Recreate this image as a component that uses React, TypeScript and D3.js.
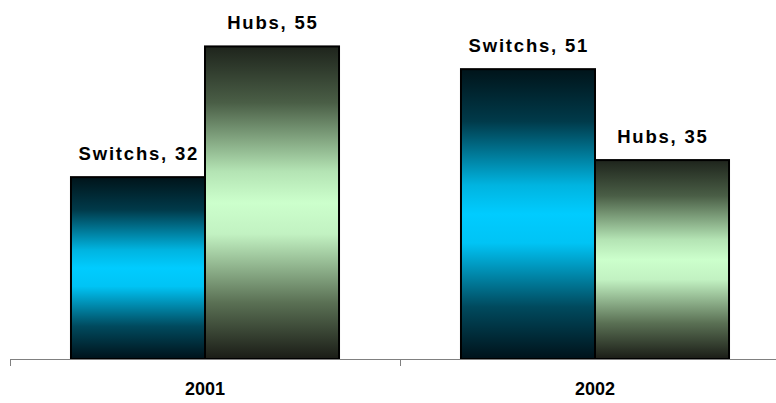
import React from "react";
import * as d3 from "d3";

const categories = ["2001", "2002"];
const seriesNames = ["Switchs", "Hubs"];
const switchValues = [32, 51];
const hubValues = [55, 35];
const yMax = 60;

const W = 776;
const H = 403;

export default function App() {
  const values: Record<string, number[]> = { Switchs: switchValues, Hubs: hubValues };
  const x = d3.scaleBand<string>().domain(categories).range([10, 790]);
  const inner = d3
    .scaleBand<string>()
    .domain(seriesNames)
    .range([0, x.bandwidth()])
    .paddingOuter(0.455)
    .paddingInner(0);
  const y = d3.scaleLinear().domain([0, yMax]).range([359, 18]);
  const grad: Record<string, string> = { Switchs: "gSw", Hubs: "gHu" };
  const ls = 1.8;

  return (
    <svg width={W} height={H} style={{ position: "absolute", left: 0, top: 0 }}>
      <defs>
        <linearGradient id="gSw" x1="0" y1="0" x2="0" y2="1">
          <stop offset="0" stopColor="#00141a" />
          <stop offset="0.18" stopColor="#003a4a" />
          <stop offset="0.4" stopColor="#00b4e0" />
          <stop offset="0.5" stopColor="#00ccff" />
          <stop offset="0.6" stopColor="#00c4f5" />
          <stop offset="0.82" stopColor="#004a5e" />
          <stop offset="1" stopColor="#00121a" />
        </linearGradient>
        <linearGradient id="gHu" x1="0" y1="0" x2="0" y2="1">
          <stop offset="0" stopColor="#1e241c" />
          <stop offset="0.18" stopColor="#4a5e46" />
          <stop offset="0.4" stopColor="#b4e4b4" />
          <stop offset="0.5" stopColor="#ccffcc" />
          <stop offset="0.6" stopColor="#c2f2c2" />
          <stop offset="0.82" stopColor="#5a7054" />
          <stop offset="1" stopColor="#1a1c16" />
        </linearGradient>
      </defs>
      {categories.map((c, i) =>
        seriesNames.map((s) => {
          const v = values[s][i];
          const bx = (x(c) ?? 0) + (inner(s) ?? 0);
          const bw = inner.bandwidth();
          return (
            <g key={c + s}>
              <rect
                x={bx}
                y={y(v)}
                width={bw}
                height={y(0) - y(v)}
                fill={`url(#${grad[s]})`}
                stroke="#000"
                strokeWidth={2}
              />
              <text
                x={bx + bw / 2 + ls / 2}
                y={y(v) - 17}
                textAnchor="middle"
                fontFamily="Liberation Sans, Arial, sans-serif"
                fontWeight="bold"
                fontSize={18.5}
                letterSpacing={ls}
                fill="#000"
              >
                {s}, {v}
              </text>
            </g>
          );
        })
      )}
      <line x1={10} x2={W} y1={359.5} y2={359.5} stroke="#808080" strokeWidth={1} />
      {categories.map((c) => (
        <line
          key={"t" + c}
          x1={Math.round(x(c) ?? 0) + 0.5}
          x2={Math.round(x(c) ?? 0) + 0.5}
          y1={359}
          y2={366}
          stroke="#808080"
        />
      ))}
      {categories.map((c) => (
        <text
          key={"l" + c}
          x={(x(c) ?? 0) + x.bandwidth() / 2}
          y={395}
          textAnchor="middle"
          fontFamily="Liberation Sans, Arial, sans-serif"
          fontWeight="bold"
          fontSize={18}
          fill="#000"
        >
          {c}
        </text>
      ))}
    </svg>
  );
}
